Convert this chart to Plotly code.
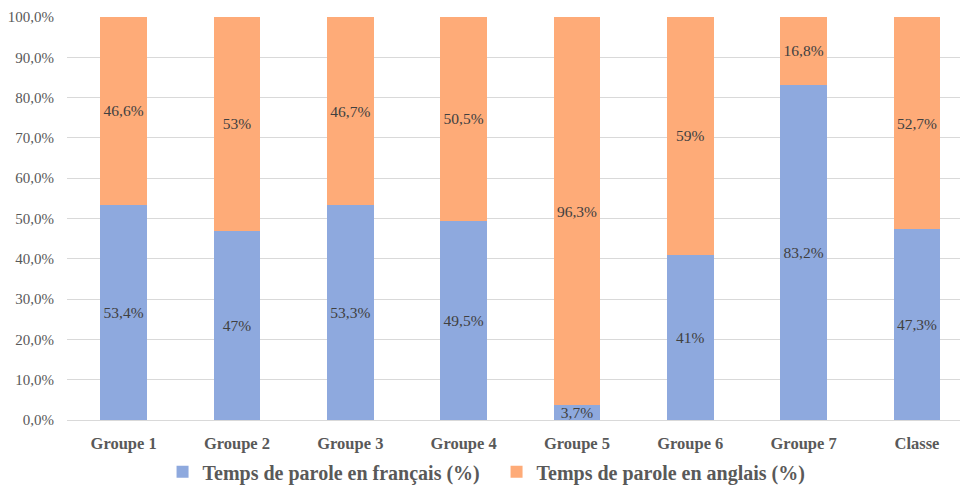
import plotly.graph_objects as go

categories = ["Groupe 1", "Groupe 2", "Groupe 3", "Groupe 4", "Groupe 5", "Groupe 6", "Groupe 7", "Classe"]
francais = [53.4, 47, 53.3, 49.5, 3.7, 41, 83.2, 47.3]
anglais = [46.6, 53, 46.7, 50.5, 96.3, 59, 16.8, 52.7]
y_ticks = [0, 10, 20, 30, 40, 50, 60, 70, 80, 90, 100]


def fmt(v):
    s = ("%g" % v).replace(".", ",")
    return s + "%"


SERIF = "Liberation Serif, Times New Roman, serif"

fig = go.Figure()
fig.add_trace(go.Bar(
    x=categories, y=francais, name="Temps de parole en français (%)",
    marker=dict(color="#8EA9DE", line=dict(width=0)),
    text=[fmt(v) for v in francais], textposition="inside",
    insidetextanchor="middle", constraintext="none",
    textfont=dict(family=SERIF, size=15.5, color="#404040"),
    width=0.41,
))
fig.add_trace(go.Bar(
    x=categories, y=anglais, name="Temps de parole en anglais (%)",
    marker=dict(color="#FEAB78", line=dict(width=0)),
    text=[fmt(v) for v in anglais], textposition="inside",
    insidetextanchor="middle", constraintext="none",
    textfont=dict(family=SERIF, size=15.5, color="#404040"),
    width=0.41,
))

fig.update_layout(
    barmode="stack",
    width=960, height=486,
    margin=dict(l=67, r=0, t=17, b=66, autoexpand=False),
    paper_bgcolor="white", plot_bgcolor="white",
    separators=", ",
    font=dict(family=SERIF, color="#595959"),
    showlegend=True,
    legend=dict(orientation="h", x=0.107, xanchor="left", y=-0.08, yanchor="top",
                bgcolor="rgba(0,0,0,0)",
                font=dict(family=SERIF, size=20, color="#595959", weight="bold"),
                itemwidth=30, traceorder="normal", entrywidthmode="pixels", entrywidth=289),
    uniformtext=dict(mode=False),
)
fig.update_xaxes(
    range=[-0.5, 7.38], showgrid=False, showline=True, linecolor="#D9D9D9", linewidth=1,
    tickfont=dict(family=SERIF, size=16.5, color="#595959", weight="bold"),
    ticks="", ticklabelstandoff=8, automargin=False,
)
fig.update_yaxes(
    range=[0, 100], tickvals=y_ticks, ticktext=[("%.1f" % v).replace(".", ",") + "%" for v in y_ticks],
    showgrid=True, gridcolor="#D9D9D9", gridwidth=1, zeroline=False, showline=False,
    tickfont=dict(family=SERIF, size=15, color="#595959"),
    ticks="", ticklabelstandoff=12, automargin=False,
)

fig.write_html("out.html", config={"displayModeBar": False},
               post_script="document.body.style.margin='0px';document.body.style.overflow='hidden';")
